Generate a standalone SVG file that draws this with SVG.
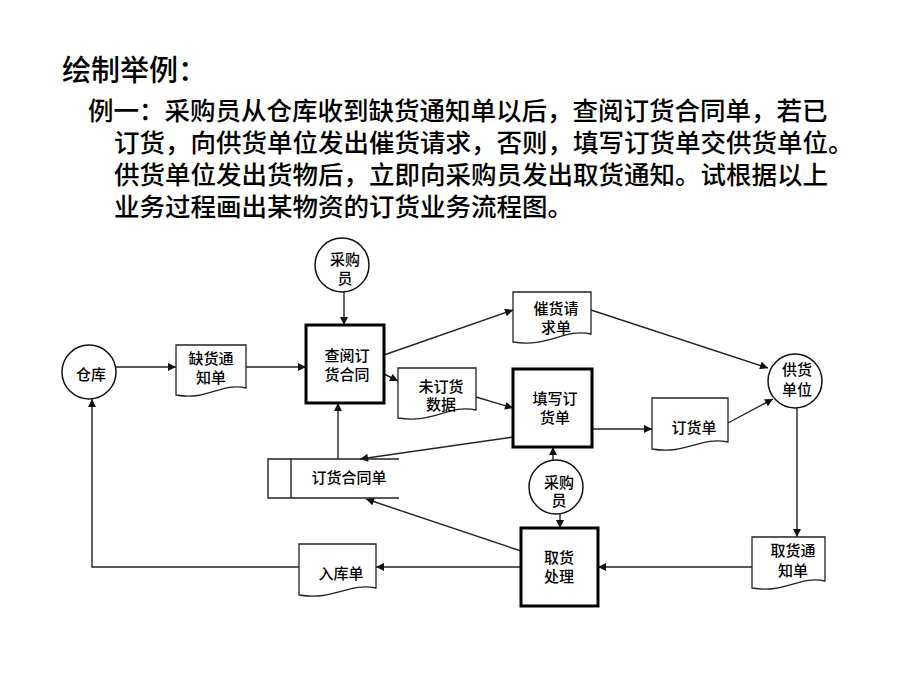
<svg xmlns="http://www.w3.org/2000/svg" width="920" height="690" viewBox="0 0 920 690">
<defs>
<marker id="ah" viewBox="0 0 10 10" refX="10" refY="5" markerWidth="9" markerHeight="8" markerUnits="userSpaceOnUse" orient="auto">
<path d="M0,0 L10,5 L0,10 z" fill="#111"/>
</marker>
<style>
text{font-family:"Liberation Sans","Noto Sans CJK SC",sans-serif;fill:#000;font-weight:500}
.t{font-size:15px;text-anchor:middle;dominant-baseline:central}
.circ{fill:#fff;stroke:#111;stroke-width:1.5}
.box{fill:#fff;stroke:#000;stroke-width:3}
.doc{fill:#fff;stroke:#222;stroke-width:1.3}
.ln{fill:none;stroke:#222;stroke-width:1.4}
.ar{fill:none;stroke:#222;stroke-width:1.4;marker-end:url(#ah)}
</style>
</defs>
<rect width="920" height="690" fill="#fff"/>
<g id="title">
<text x="62" y="81" style="font-size:29px">绘制举例：</text>
<text x="88" y="120" style="font-size:25.5px">例一：采购员从仓库收到缺货通知单以后，查阅订货合同单，若已</text>
<text x="114" y="152" style="font-size:25.5px">订货，向供货单位发出催货请求，否则，填写订货单交供货单位。</text>
<text x="114" y="184" style="font-size:25.5px">供货单位发出货物后，立即向采购员发出取货通知。试根据以上</text>
<text x="114" y="216" style="font-size:25.5px">业务过程画出某物资的订货业务流程图。</text>
</g>
<g id="connectors">
<line class="ar" x1="116" y1="367" x2="176" y2="367"/>
<line class="ar" x1="246" y1="367" x2="306" y2="367"/>
<line class="ar" x1="344" y1="292" x2="344" y2="325"/>
<line class="ar" x1="384" y1="355" x2="513" y2="310"/>
<line class="ar" x1="384" y1="374" x2="398" y2="381"/>
<line class="ar" x1="476" y1="397" x2="513" y2="408"/>
<line class="ar" x1="591" y1="310" x2="768" y2="368"/>
<line class="ar" x1="592" y1="429" x2="652" y2="429"/>
<line class="ar" x1="728" y1="423" x2="773" y2="399"/>
<line class="ar" x1="797" y1="408" x2="797" y2="537"/>
<line class="ar" x1="752" y1="567" x2="598" y2="567"/>
<line class="ar" x1="521" y1="567" x2="376" y2="567"/>
<polyline class="ar" points="299,567 92,567 92,399"/>
<line class="ar" x1="521" y1="551" x2="366" y2="499"/>
<line class="ar" x1="513" y1="437" x2="360" y2="459"/>
<line class="ar" x1="338" y1="459" x2="338" y2="403"/>
<line class="ar" x1="553" y1="460" x2="553" y2="447"/>
<line class="ar" x1="560" y1="514" x2="560" y2="528"/>
</g>
<g id="n-cangku">
<circle class="circ" cx="89" cy="372" r="27"/>
<text class="t" x="91" y="374">仓库</text>
</g>
<g id="n-quehuo">
<path class="doc" d="M176,345 H246 V388 C221.5,382 207.5,401 176,395 Z"/>
<text class="t" x="211" y="358">缺货通</text>
<text class="t" x="211" y="377">知单</text>
</g>
<g id="n-caigou1">
<circle class="circ" cx="342" cy="265" r="27"/>
<text class="t" x="345" y="259">采购</text>
<text class="t" x="345" y="278">员</text>
</g>
<g id="n-chayue">
<rect class="box" x="306" y="325" width="78" height="78"/>
<text class="t" x="347" y="355">查阅订</text>
<text class="t" x="347" y="374">货合同</text>
</g>
<g id="n-cuihuo">
<path class="doc" d="M513,292 H591 V334 C564,328 548,348 513,342 Z"/>
<text class="t" x="556" y="308">催货请</text>
<text class="t" x="556" y="327">求单</text>
</g>
<g id="n-weidinghuo">
<path class="doc" d="M398,368 H476 V410 C449,404 433,424 398,418 Z"/>
<text class="t" x="441" y="386">未订货</text>
<text class="t" x="441" y="404">数据</text>
</g>
<g id="n-tianxie">
<rect class="box" x="513" y="369" width="79" height="78"/>
<text class="t" x="555" y="398">填写订</text>
<text class="t" x="555" y="417">货单</text>
</g>
<g id="n-gonghuo">
<circle class="circ" cx="795" cy="381" r="27"/>
<text class="t" x="797" y="369">供货</text>
<text class="t" x="797" y="389">单位</text>
</g>
<g id="n-dinghuodan">
<path class="doc" d="M652,398 H728 V442 C701,436 686,455 652,449 Z"/>
<text class="t" x="694" y="427">订货单</text>
</g>
<g id="n-hetong">
<path class="ln" d="M399,459 H268 V498 H399 M291,459 V498"/>
<text class="t" x="349" y="477">订货合同单</text>
</g>
<g id="n-caigou2">
<circle class="circ" cx="556" cy="487" r="27"/>
<text class="t" x="559" y="482">采购</text>
<text class="t" x="559" y="500">员</text>
</g>
<g id="n-quhuo">
<rect class="box" x="521" y="528" width="77" height="78"/>
<text class="t" x="559" y="557">取货</text>
<text class="t" x="559" y="576">处理</text>
</g>
<g id="n-quhuotongzhi">
<path class="doc" d="M752,537 H825 V581 C800,575 785,594 752,588 Z"/>
<text class="t" x="793" y="550">取货通</text>
<text class="t" x="793" y="570">知单</text>
</g>
<g id="n-ruku">
<path class="doc" d="M299,544 H376 V588 C349,582 334,601 299,595 Z"/>
<text class="t" x="341" y="573">入库单</text>
</g>
</svg>
